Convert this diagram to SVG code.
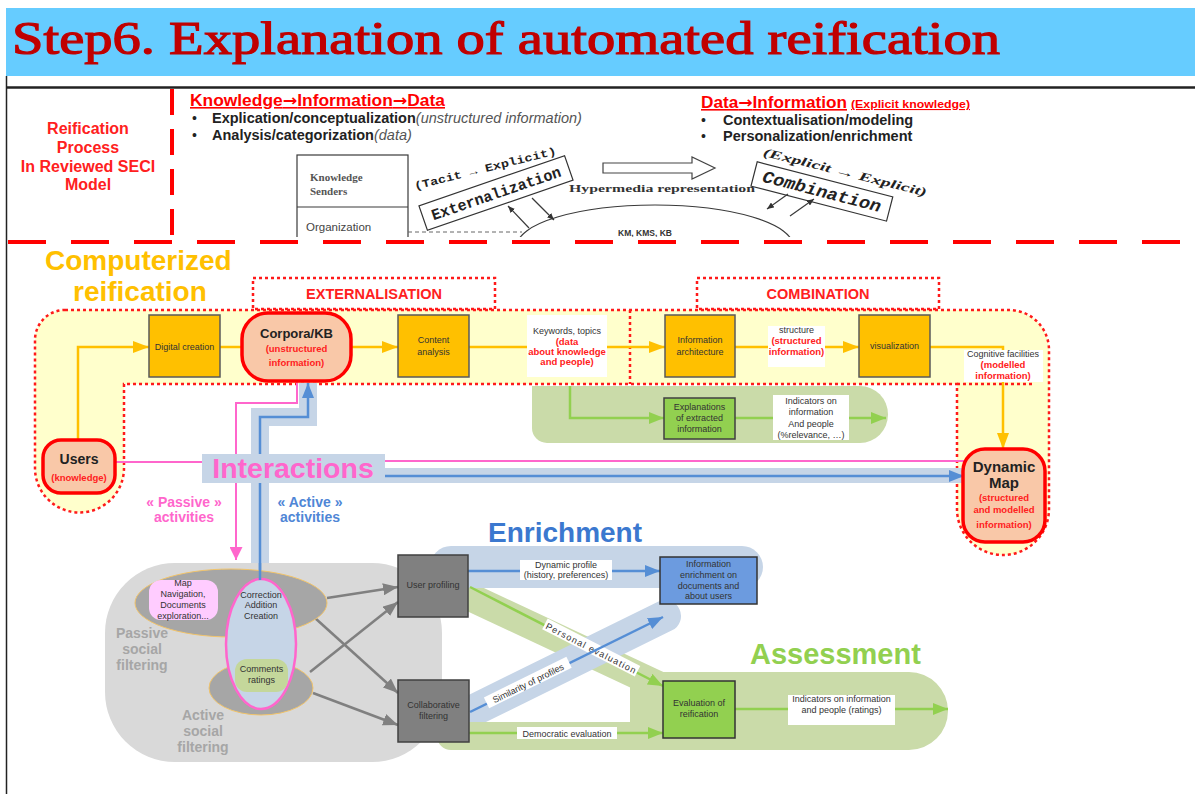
<svg xmlns="http://www.w3.org/2000/svg" width="1195" height="794" viewBox="0 0 1195 794" font-family="'Liberation Sans', Arial, sans-serif">
<style>
.ob{fill:#FFC000;stroke:#5A5A5A;stroke-width:1.5}
.sal{fill:#F9C8A8;stroke:#FF0000;stroke-width:3.5}
.dot{fill:none;stroke:#FF1A1A;stroke-width:2.5;stroke-dasharray:3 3}
.lo{fill:none;stroke:#FFC000;stroke-width:2.5}
.lg{fill:none;stroke:#92D050;stroke-width:2.5}
.lb{fill:none;stroke:#558ED5;stroke-width:2.5}
.lp{fill:none;stroke:#FF66CC;stroke-width:2}
.lgr{fill:none;stroke:#808080;stroke-width:2.5}
.sk{fill:none;stroke:#3A3A3A;stroke-width:1.2}
.gb{fill:#808080;stroke:#404040;stroke-width:1.5}
.sm{font-size:9px;fill:#333333;text-anchor:middle}
.rs{font-size:9.5px;fill:#FF2020;font-weight:bold;text-anchor:middle}
.band{fill:#C6D5E7}
.grn{fill:#CADBA9}
.arw{font-family:"DejaVu Sans",sans-serif;font-weight:bold}
</style>
<defs>
<marker id="mO" markerUnits="userSpaceOnUse" markerWidth="16" markerHeight="12" refX="16" refY="6" orient="auto"><path d="M0,0 L16,6 L0,12 z" fill="#FFC000"/></marker>
<marker id="mG" markerUnits="userSpaceOnUse" markerWidth="15" markerHeight="12" refX="15" refY="6" orient="auto"><path d="M0,0 L15,6 L0,12 z" fill="#92D050"/></marker>
<marker id="mB" markerUnits="userSpaceOnUse" markerWidth="15" markerHeight="12" refX="15" refY="6" orient="auto"><path d="M0,0 L15,6 L0,12 z" fill="#558ED5"/></marker>
<marker id="mP" markerUnits="userSpaceOnUse" markerWidth="13" markerHeight="13" refX="13" refY="6.5" orient="auto"><path d="M0,0 L13,6.5 L0,13 z" fill="#FF66CC"/></marker>
<marker id="mGr" markerUnits="userSpaceOnUse" markerWidth="15" markerHeight="12" refX="15" refY="6" orient="auto"><path d="M0,0 L15,6 L0,12 z" fill="#808080"/></marker>
<marker id="mK" markerUnits="userSpaceOnUse" markerWidth="7" markerHeight="6" refX="7" refY="3" orient="auto"><path d="M0,0 L7,3 L0,6 z" fill="#333"/></marker>
<clipPath id="seciClip"><rect x="290" y="140" width="660" height="97"/></clipPath>
</defs>

<!-- title -->
<g id="title">
<rect x="6" y="8" width="1189" height="68" fill="#66CCFF"/>
<text x="12" y="54" font-family="'Liberation Serif', serif" font-size="47" fill="#C00000" stroke="#C00000" stroke-width="1.2" textLength="988" lengthAdjust="spacingAndGlyphs">Step6. Explanation of automated reification</text>
</g>

<!-- frame -->
<g id="frame">
<line x1="6.5" y1="76" x2="6.5" y2="794" stroke="#222" stroke-width="1.5"/>
<line x1="6" y1="87.5" x2="1195" y2="87.5" stroke="#222" stroke-width="2.5"/>
</g>

<!-- SECI header -->
<g id="seci-label" font-weight="bold" font-size="16" fill="#FF2020" text-anchor="middle">
<text x="88" y="134">Reification</text>
<text x="88" y="153">Process</text>
<text x="88" y="172">In Reviewed SECI</text>
<text x="88" y="190">Model</text>
</g>

<g id="seci-left-text">
<text x="190" y="106" font-size="16" font-weight="bold" fill="#FF0000" text-decoration="underline" textLength="255" lengthAdjust="spacingAndGlyphs">Knowledge<tspan class="arw">→</tspan>Information<tspan class="arw">→</tspan>Data</text>
<text x="192" y="123" font-size="14" fill="#222">•</text>
<text x="212" y="123" font-size="14.5" fill="#222"><tspan font-weight="bold">Explication/conceptualization</tspan><tspan font-style="italic" fill="#555">(unstructured information)</tspan></text>
<text x="192" y="140" font-size="14" fill="#222">•</text>
<text x="212" y="140" font-size="14.5" fill="#222"><tspan font-weight="bold">Analysis/categorization</tspan><tspan font-style="italic" fill="#555">(data)</tspan></text>
</g>

<g id="seci-right-text">
<text x="701" y="108" font-size="16" font-weight="bold" fill="#FF0000" text-decoration="underline" textLength="146" lengthAdjust="spacingAndGlyphs">Data<tspan class="arw">→</tspan>Information</text>
<text x="851" y="108" font-size="11" font-weight="bold" fill="#FF0000" text-decoration="underline" textLength="119" lengthAdjust="spacingAndGlyphs">(Explicit knowledge)</text>
<text x="701" y="125" font-size="14" fill="#222">•</text>
<text x="723" y="125" font-size="14.5" font-weight="bold" fill="#222">Contextualisation/modeling</text>
<text x="701" y="141" font-size="14" fill="#222">•</text>
<text x="723" y="141" font-size="14.5" font-weight="bold" fill="#222">Personalization/enrichment</text>
</g>

<g id="seci-sketch" clip-path="url(#seciClip)">
<rect x="297" y="155" width="111" height="100" class="sk"/>
<line x1="297" y1="207" x2="408" y2="207" class="sk"/>
<text x="310" y="181" font-family="'Liberation Serif', serif" font-size="11" font-weight="bold" fill="#555">Knowledge</text>
<text x="310" y="195" font-family="'Liberation Serif', serif" font-size="11" font-weight="bold" fill="#555">Senders</text>
<text x="306" y="231" font-size="11.5" fill="#444">Organization</text>
<line x1="408" y1="232" x2="522" y2="232" stroke="#666" stroke-width="1" stroke-dasharray="4 3"/>
<ellipse cx="655" cy="246" rx="138" ry="41" class="sk"/>
<text x="645" y="236" text-anchor="middle" font-size="8.5" font-weight="bold" fill="#333">KM, KMS, KB</text>
<text transform="translate(486,172) rotate(-14)" text-anchor="middle" font-family="'Liberation Mono', monospace" font-weight="bold" font-size="11" fill="#222" textLength="146" lengthAdjust="spacingAndGlyphs">(Tacit → Explicit)</text>
<g transform="translate(496,193) rotate(-19)">
<rect x="-77" y="-13" width="154" height="26" fill="#fff" stroke="#333" stroke-width="1.2"/>
<text x="0" y="5.5" text-anchor="middle" font-family="'Liberation Mono', monospace" font-weight="bold" font-size="15.5" fill="#222" textLength="136" lengthAdjust="spacingAndGlyphs">Externalization</text>
</g>
<path d="M529,228 L508,206" class="sk" marker-end="url(#mK)"/>
<path d="M532,198 L554,220" class="sk" marker-end="url(#mK)"/>
<polygon points="603,163 692,163 692,157 715,168 692,179 692,173 603,173" fill="#fff" stroke="#444" stroke-width="1.2"/>
<text x="662" y="192" text-anchor="middle" font-family="'Liberation Serif', serif" font-weight="bold" font-size="10" fill="#333" textLength="186" lengthAdjust="spacingAndGlyphs">Hypermedia representation</text>
<text transform="translate(844,176) rotate(14)" text-anchor="middle" font-family="'Liberation Serif', serif" font-style="italic" font-weight="bold" font-size="12" fill="#222" textLength="168" lengthAdjust="spacingAndGlyphs">(Explicit → Explicit)</text>
<g transform="translate(822,191) rotate(14.5)">
<rect x="-70" y="-12" width="140" height="25" fill="#fff" stroke="#333" stroke-width="1.2"/>
<text x="0" y="6" text-anchor="middle" font-family="'Liberation Mono', monospace" font-style="italic" font-weight="bold" font-size="17" fill="#222" textLength="122" lengthAdjust="spacingAndGlyphs">Combination</text>
</g>
<path d="M788,194 L767,209" class="sk" marker-end="url(#mK)"/>
<path d="M790,216 L814,199" class="sk" marker-end="url(#mK)"/>
</g>

<!-- red dashed separators -->
<g id="separators">
<line x1="172" y1="89" x2="172" y2="238" stroke="#FF0000" stroke-width="4" stroke-dasharray="26 14"/>
<line x1="8" y1="242" x2="1195" y2="242" stroke="#FF0000" stroke-width="4" stroke-dasharray="38 25"/>
</g>

<g id="computerized-title" font-weight="bold" font-size="28" fill="#FFC000">
<text x="45" y="270">Computerized</text>
<text x="73" y="301">reification</text>
</g>

<!-- yellow computerized region -->
<g id="computerized-region">
<path d="M65,310 H1009 A40,40 0 0 1 1049,350 V509 A46,46 0 0 1 957,509 V384 H124 V468 A44.5,44.5 0 0 1 35,468 V340 A30,30 0 0 1 65,310 Z" fill="#FFFFCC"/>
<path d="M65,310 H1009 A40,40 0 0 1 1049,350 V509 A46,46 0 0 1 957,509 V384 H124 V468 A44.5,44.5 0 0 1 35,468 V340 A30,30 0 0 1 65,310 Z" class="dot"/>
<line x1="957" y1="384" x2="1035" y2="384" class="dot"/>
<line x1="630" y1="310" x2="630" y2="384" class="dot"/>
</g>
<g id="externalisation-box">
<rect x="253" y="278" width="242" height="31" class="dot"/>
<text x="374" y="299" text-anchor="middle" font-size="14.5" font-weight="bold" fill="#FF2020">EXTERNALISATION</text>
</g>
<g id="combination-box">
<rect x="697" y="278" width="242" height="31" class="dot"/>
<text x="818" y="299" text-anchor="middle" font-size="14.5" font-weight="bold" fill="#FF2020">COMBINATION</text>
</g>

<!-- background bands -->
<g id="bands">
<path d="M532,386 H860 A28,28.5 0 0 1 860,443 H547 A15,15 0 0 1 532,428 Z" class="grn"/>
<path d="M308,383 V417 H260 V563" fill="none" stroke="#C6D5E7" stroke-width="18"/>
<rect x="385" y="468" width="578" height="15" class="band"/>
<rect x="105" y="563" width="337" height="199" rx="70" fill="#D9D9D9"/>
<line x1="455" y1="590" x2="690" y2="700" stroke="#CADBA9" stroke-width="28"/>
<rect x="430" y="546" width="333" height="42" rx="21" class="band"/>
<line x1="458" y1="718" x2="665" y2="616" stroke="#C6D5E7" stroke-width="32" stroke-linecap="round"/>
<path d="M645,672 H909 A39,39 0 0 1 909,750 H451 A14,14 0 0 1 451,722 H630 V687 A15,15 0 0 1 645,672 Z" class="grn"/>
</g>

<g id="section-titles" font-weight="bold">
<text x="488" y="542" font-size="28" fill="#3B78CF">Enrichment</text>
<text x="750" y="664" font-size="29" fill="#92D050">Assessment</text>
<text x="184" y="507" text-anchor="middle" font-size="14" fill="#FF66CC">« Passive »</text>
<text x="184" y="522" text-anchor="middle" font-size="14" fill="#FF66CC">activities</text>
<text x="310" y="507" text-anchor="middle" font-size="14" fill="#4F86D6">« Active »</text>
<text x="310" y="522" text-anchor="middle" font-size="14" fill="#4F86D6">activities</text>
</g>

<!-- connectors -->
<g id="connectors">
<path d="M78,440 V347 H149" class="lo" marker-end="url(#mO)"/>
<path d="M220,347 H242" class="lo"/>
<path d="M351,347 H398" class="lo" marker-end="url(#mO)"/>
<path d="M469,347 H527" class="lo"/>
<path d="M607,347 H665" class="lo" marker-end="url(#mO)"/>
<path d="M735,347 H768" class="lo"/>
<path d="M825,347 H859" class="lo" marker-end="url(#mO)"/>
<path d="M930,347 H1003 V449" class="lo" marker-end="url(#mO)"/>
<path d="M570,386 V418 H664" class="lg" marker-end="url(#mG)"/>
<path d="M735,418 H773" class="lg"/>
<path d="M849,418 H886" class="lg" marker-end="url(#mG)"/>
<path d="M297,381 V403 H236 V560" class="lp" marker-end="url(#mP)"/>
<path d="M116,462 H203" class="lp"/>
<path d="M385,461 H966" class="lp"/>
<path d="M385,476 H964" class="lb" marker-end="url(#mB)"/>
<path d="M260,580 V417 H308 V383" class="lb" marker-end="url(#mB)"/>
<path d="M327,598 L398,587" class="lgr" marker-end="url(#mGr)"/>
<path d="M315,618 L398,693" class="lgr" marker-end="url(#mGr)"/>
<path d="M310,672 L398,602" class="lgr" marker-end="url(#mGr)"/>
<path d="M313,693 L398,725" class="lgr" marker-end="url(#mGr)"/>
<path d="M468,571 H660" class="lb" marker-end="url(#mB)"/>
<path d="M470,587 L663,686" class="lg" marker-end="url(#mG)"/>
<g transform="translate(591,648) rotate(27.1)">
<rect x="-52" y="-6.5" width="104" height="12" fill="#fff"/>
<text x="0" y="3.5" class="sm" font-size="9.5" textLength="100" lengthAdjust="spacing">Personal evaluation</text>
</g>
<path d="M470,712 L663,617" class="lb" marker-end="url(#mB)"/>
<g transform="translate(528,683) rotate(-26.2)">
<rect x="-46" y="-6.5" width="92" height="12" fill="#fff"/>
<text x="0" y="3.5" class="sm">Similarity of profiles</text>
</g>
<path d="M469,733 H663" class="lg" marker-end="url(#mG)"/>
<rect x="517" y="727" width="100" height="12" fill="#fff"/>
<text x="567" y="736.5" class="sm" font-size="9.5">Democratic evaluation</text>
<path d="M735,709 H788" class="lg"/>
<path d="M895,709 H948" class="lg" marker-end="url(#mG)"/>
<rect x="520" y="560" width="92" height="20" fill="#fff"/>
<text x="566" y="567.5" class="sm" font-size="8.5">Dynamic profile</text>
<text x="566" y="578" class="sm" font-size="8.5">(history, preferences)</text>
</g>

<!-- interactions label -->
<g id="interactions">
<rect x="202" y="454" width="183" height="29" class="band"/>
<text x="293" y="478" text-anchor="middle" font-size="28.5" font-weight="bold" fill="#FF66CC">Interactions</text>
</g>

<!-- top band nodes -->
<g id="digital-creation">
<rect x="149" y="315" width="71" height="62" class="ob"/>
<text x="184.5" y="350" class="sm" font-size="8.5">Digital creation</text>
</g>
<g id="corpora">
<rect x="242" y="313" width="109" height="68" rx="26" class="sal"/>
<text x="296.5" y="338" text-anchor="middle" font-size="13" font-weight="bold" fill="#222">Corpora/KB</text>
<text x="296.5" y="352" class="rs" font-size="10.5">(unstructured</text>
<text x="296.5" y="366" class="rs" font-size="10.5">information)</text>
</g>
<g id="content-analysis">
<rect x="398" y="315" width="71" height="62" class="ob"/>
<text x="433.5" y="343" class="sm">Content</text>
<text x="433.5" y="355" class="sm">analysis</text>
</g>
<g id="keywords">
<rect x="527" y="315" width="80" height="62" fill="#fff"/>
<text x="567" y="334" class="sm" font-size="8.5">Keywords, topics</text>
<text x="567" y="345" class="rs" font-size="9">(data</text>
<text x="567" y="355" class="rs" font-size="9">about knowledge</text>
<text x="567" y="365" class="rs" font-size="9">and people)</text>
</g>
<g id="information-architecture">
<rect x="665" y="315" width="70" height="62" class="ob"/>
<text x="700" y="343" class="sm">Information</text>
<text x="700" y="355" class="sm">architecture</text>
</g>
<g id="structure">
<rect x="768" y="326" width="57" height="41" fill="#fff"/>
<text x="796.5" y="333" class="sm" font-size="8.5">structure</text>
<text x="796.5" y="344" class="rs" font-size="9">(structured</text>
<text x="796.5" y="355" class="rs" font-size="9">information)</text>
</g>
<g id="visualization">
<rect x="859" y="315" width="71" height="62" class="ob"/>
<text x="894.5" y="349" class="sm">visualization</text>
</g>
<g id="cognitive">
<rect x="964" y="350" width="79" height="32" fill="#fff"/>
<text x="1003" y="357" class="sm" font-size="8.5">Cognitive facilities</text>
<text x="1003" y="368" class="rs" font-size="9">(modelled</text>
<text x="1003" y="379" class="rs" font-size="9">information)</text>
</g>
<g id="users">
<rect x="43" y="440" width="72" height="53" rx="18" class="sal"/>
<text x="79" y="464" text-anchor="middle" font-size="14" font-weight="bold" fill="#222">Users</text>
<text x="79" y="481" class="rs" font-size="10">(knowledge)</text>
</g>
<g id="dynamic-map">
<rect x="963" y="449" width="82" height="93" rx="22" class="sal"/>
<text x="1004" y="472" text-anchor="middle" font-size="15" font-weight="bold" fill="#222">Dynamic</text>
<text x="1004" y="488" text-anchor="middle" font-size="15" font-weight="bold" fill="#222">Map</text>
<text x="1004" y="501" class="rs" font-size="10.5">(structured</text>
<text x="1004" y="513" class="rs" font-size="10.5">and modelled</text>
<text x="1004" y="528" class="rs" font-size="10.5">information)</text>
</g>
<g id="explanations">
<rect x="664" y="398" width="71" height="41" fill="#92D050" stroke="#404040" stroke-width="1.5"/>
<text x="699.5" y="410" class="sm">Explanations</text>
<text x="699.5" y="421" class="sm">of extracted</text>
<text x="699.5" y="432" class="sm">information</text>
</g>
<g id="indicators-relevance">
<rect x="773" y="395" width="76" height="45" fill="#fff"/>
<text x="811" y="404" class="sm" font-size="8.5">Indicators on</text>
<text x="811" y="415" class="sm" font-size="8.5">information</text>
<text x="811" y="427" class="sm" font-size="8.5">And people</text>
<text x="811" y="438" class="sm" font-size="8.5">(%relevance, …)</text>
</g>

<!-- social filtering -->
<g id="passive-filtering">
<ellipse cx="231" cy="603" rx="96" ry="34" fill="#A6A6A6" stroke="#F2C46A" stroke-width="1"/>
<text x="142" y="638" text-anchor="middle" font-size="14" font-weight="bold" fill="#A6A6A6">Passive</text>
<text x="142" y="654" text-anchor="middle" font-size="14" font-weight="bold" fill="#A6A6A6">social</text>
<text x="142" y="670" text-anchor="middle" font-size="14" font-weight="bold" fill="#A6A6A6">filtering</text>
</g>
<g id="active-filtering">
<ellipse cx="261" cy="688" rx="52" ry="27" fill="#A6A6A6" stroke="#F2C46A" stroke-width="1"/>
<text x="203" y="720" text-anchor="middle" font-size="14" font-weight="bold" fill="#A6A6A6">Active</text>
<text x="203" y="736" text-anchor="middle" font-size="14" font-weight="bold" fill="#A6A6A6">social</text>
<text x="203" y="752" text-anchor="middle" font-size="14" font-weight="bold" fill="#A6A6A6">filtering</text>
</g>
<g id="correction">
<ellipse cx="261" cy="644" rx="35" ry="65" fill="#C6D5E7" stroke="#FF66CC" stroke-width="2.5"/>
<text x="261" y="598" class="sm">Correction</text>
<text x="261" y="608" class="sm">Addition</text>
<text x="261" y="619" class="sm">Creation</text>
</g>
<g id="map-navigation">
<rect x="149" y="580" width="69" height="40" rx="12" fill="#FFCCFF"/>
<text x="183" y="586" class="sm">Map</text>
<text x="183" y="597" class="sm">Navigation,</text>
<text x="183" y="608" class="sm">Documents</text>
<text x="183" y="619" class="sm">exploration...</text>
</g>
<g id="comments">
<rect x="235" y="659" width="53" height="33" rx="12" fill="#C4D79B"/>
<text x="261.5" y="672" class="sm">Comments</text>
<text x="261.5" y="683" class="sm">ratings</text>
</g>
<path d="M260,580 V563" class="lb"/>

<g id="user-profiling">
<rect x="398" y="555" width="70" height="62" class="gb"/>
<text x="433" y="588" class="sm" fill="#222">User profiling</text>
</g>
<g id="collaborative-filtering">
<rect x="398" y="680" width="71" height="62" class="gb"/>
<text x="433.5" y="708" class="sm">Collaborative</text>
<text x="433.5" y="719" class="sm">filtering</text>
</g>
<g id="information-enrichment">
<rect x="660" y="557" width="97" height="47" fill="#6C9BDF" stroke="#333" stroke-width="1.5"/>
<text x="708.5" y="567" class="sm">Information</text>
<text x="708.5" y="578" class="sm">enrichment on</text>
<text x="708.5" y="589" class="sm">documents and</text>
<text x="708.5" y="599" class="sm">about users</text>
</g>
<g id="evaluation">
<rect x="663" y="681" width="72" height="57" fill="#92D050" stroke="#333" stroke-width="1.5"/>
<text x="699" y="706" class="sm">Evaluation of</text>
<text x="699" y="717" class="sm">reification</text>
</g>
<g id="indicators-ratings">
<rect x="788" y="695" width="107" height="30" fill="#fff"/>
<text x="841.5" y="702" class="sm" font-size="8.5">Indicators on information</text>
<text x="841.5" y="713" class="sm" font-size="8.5">and people (ratings)</text>
</g>
</svg>
